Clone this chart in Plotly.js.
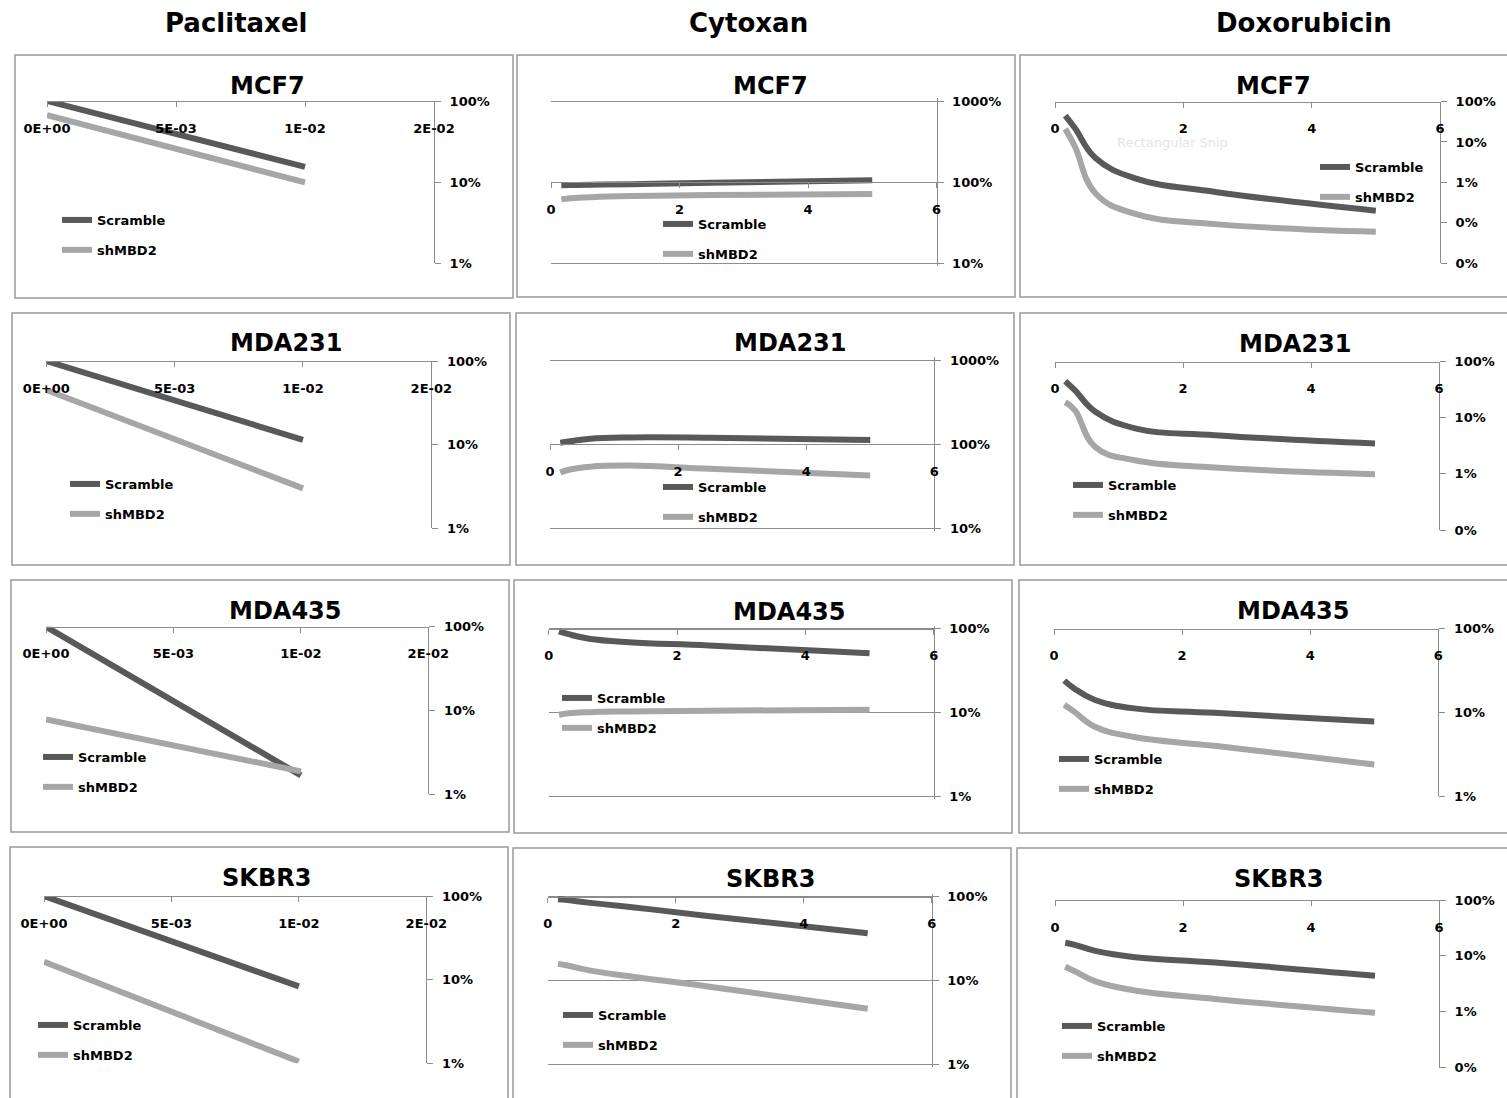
<!DOCTYPE html>
<html><head><meta charset="utf-8">
<script src="https://cdn.plot.ly/plotly-3.0.1.min.js"></script>
<style>html,body{margin:0;padding:0;background:#fff}#chart{width:1507px;height:1098px}</style>
</head><body><div id="chart"></div>
<script>
// ---------------- data ----------------
const drugs = ['Paclitaxel', 'Cytoxan', 'Doxorubicin'];
const cells = ['MCF7', 'MDA231', 'MDA435', 'SKBR3'];
const seriesNames = ['Scramble', 'shMBD2'];

const pacDose = [0, 0.01];
const cytDose = [0.16, 0.31, 0.63, 1.25, 2.5, 5];
const doxDose = [0.16, 0.31, 0.63, 1.25, 2.5, 5];

const pacMCF7Scr = [1.0, 0.154];
const pacMCF7Sh = [0.67, 0.099];
const pacMDA231Scr = [1.0, 0.114];
const pacMDA231Sh = [0.45, 0.030];
const pacMDA435Scr = [1.0, 0.0168];
const pacMDA435Sh = [0.078, 0.0188];
const pacSKBR3Scr = [1.0, 0.083];
const pacSKBR3Sh = [0.164, 0.0105];

const cytMCF7Scr = [0.91, 0.915, 0.925, 0.94, 0.98, 1.05];
const cytMCF7Sh = [0.61, 0.63, 0.65, 0.67, 0.69, 0.71];
const cytMDA231Scr = [1.04, 1.08, 1.16, 1.20, 1.19, 1.12];
const cytMDA231Sh = [0.46, 0.50, 0.54, 0.556, 0.51, 0.425];
const cytMDA435Scr = [0.93, 0.86, 0.76, 0.69, 0.63, 0.51];
const cytMDA435Sh = [0.094, 0.098, 0.101, 0.103, 0.105, 0.108];
const cytSKBR3Scr = [0.93, 0.91, 0.85, 0.76, 0.59, 0.366];
const cytSKBR3Sh = [0.158, 0.151, 0.133, 0.113, 0.085, 0.046];

const doxMCF7Scr = [0.45, 0.22, 0.040, 0.0126, 0.0058, 0.0020];
const doxMCF7Sh = [0.21, 0.077, 0.0054, 0.00166, 0.00093, 0.0006];
const doxMDA231Scr = [0.45, 0.31, 0.128, 0.065, 0.049, 0.035];
const doxMDA231Sh = [0.19, 0.137, 0.030, 0.0175, 0.013, 0.0099];
const doxMDA435Scr = [0.24, 0.195, 0.142, 0.112, 0.099, 0.078];
const doxMDA435Sh = [0.124, 0.103, 0.068, 0.051, 0.040, 0.024];
const doxSKBR3Scr = [0.172, 0.158, 0.123, 0.095, 0.076, 0.044];
const doxSKBR3Sh = [0.064, 0.053, 0.035, 0.024, 0.017, 0.0096];

const pacTickVals = [0, 0.005, 0.01, 0.015];
const pacTickText = ['0E+00', '5E-03', '1E-02', '2E-02'];
const doseTickVals = [0, 2, 4, 6];
const doseTickText = ['0', '2', '4', '6'];
const survTickVals = [10, 1, 0.1, 0.01, 0.001, 0.0001];
const survTickText = ['1000%', '100%', '10%', '1%', '0%', '0%'];

// ---------------- layout geometry (pixels) ----------------
const W = 1507, H = 1098;
const FONT = 'DejaVu Sans';
const colScr = '#595959', colSh = '#a6a6a6', axCol = '#8c8c8c';

const panels = [
  {d:0, c:0, x:pacDose, s:[pacMCF7Scr, pacMCF7Sh], yr:[-2,0], plot:[47,434,101,263], box:[15,513,55,298], title:[267,86], leg:[97,219]},
  {d:1, c:0, x:cytDose, s:[cytMCF7Scr, cytMCF7Sh], yr:[-1,1], plot:[551,936.5,101,263], box:[517,1015,55,297], title:[770,86], leg:[698,223]},
  {d:2, c:0, x:doxDose, s:[doxMCF7Scr, doxMCF7Sh], yr:[-4,0], plot:[1055,1440,101.5,263.3], box:[1020,1515,55,297], title:[1273,86], leg:[1355,166]},
  {d:0, c:1, x:pacDose, s:[pacMDA231Scr, pacMDA231Sh], yr:[-2,0], plot:[46.3,431.3,361,528.3], box:[12,510,313,565], title:[286,343], leg:[105,483]},
  {d:1, c:1, x:cytDose, s:[cytMDA231Scr, cytMDA231Sh], yr:[-1,1], plot:[550,934.3,360,528.3], box:[516,1014,313,565], title:[790,343], leg:[698,486]},
  {d:2, c:1, x:doxDose, s:[doxMDA231Scr, doxMDA231Sh], yr:[-3,0], plot:[1055,1439,361.7,530], box:[1020,1515,313,565], title:[1295,344], leg:[1108,484]},
  {d:0, c:2, x:pacDose, s:[pacMDA435Scr, pacMDA435Sh], yr:[-2,0], plot:[46,428.3,626.7,794.3], box:[11,509,580,832], title:[285,611], leg:[78,756]},
  {d:1, c:2, x:cytDose, s:[cytMDA435Scr, cytMDA435Sh], yr:[-2,0], plot:[548.7,933.7,628.7,796.3], box:[514,1012,580,833], title:[789,612], leg:[597,697]},
  {d:2, c:2, x:doxDose, s:[doxMDA435Scr, doxMDA435Sh], yr:[-2,0], plot:[1054,1438.3,628.7,796.3], box:[1019,1515,580,833], title:[1293,611], leg:[1094,758]},
  {d:0, c:3, x:pacDose, s:[pacSKBR3Scr, pacSKBR3Sh], yr:[-2,0], plot:[44,426.3,896,1063.3], box:[10,508,847,1105], title:[266,878], leg:[73,1024]},
  {d:1, c:3, x:cytDose, s:[cytSKBR3Scr, cytSKBR3Sh], yr:[-2,0], plot:[547.7,931.7,896.7,1064.3], box:[513,1011,848,1105], title:[770,879], leg:[598,1014]},
  {d:2, c:3, x:doxDose, s:[doxSKBR3Scr, doxSKBR3Sh], yr:[-3,0], plot:[1055,1439,900,1067.7], box:[1017,1515,848,1105], title:[1278,879], leg:[1097,1025]}
];

const traces = [];
const layout = {
  width: W, height: H,
  margin: {l:0, r:0, t:0, b:0},
  paper_bgcolor: '#ffffff', plot_bgcolor: 'rgba(0,0,0,0)',
  font: {family: FONT, color: '#000'},
  showlegend: true,
  shapes: [], annotations: []
};

const headerX = [236, 748, 1304];
drugs.forEach((name, i) => {
  layout.annotations.push({text: name, xref:'paper', yref:'paper', x: headerX[i]/W, y: 1 - 23/H,
    xanchor:'center', yanchor:'middle', showarrow:false,
    font:{family: FONT, size: 26, weight: 'bold', color:'#000'}});
});

panels.forEach((p, i) => {
  const n = i + 1;
  const sfx = n === 1 ? '' : String(n);
  const xid = 'x' + sfx, yid = 'y' + sfx, legId = 'legend' + sfx;
  const isPac = p.d === 0, isCyt = p.d === 1;
  const span = p.plot[3] - p.plot[2];
  // Cytoxan panels show grid lines at every decade, including both ends:
  // widen their range by a few pixels so the end grid lines are kept.
  const padPx = isCyt ? 3 : 0;
  const eps = padPx * (p.yr[1] - p.yr[0]) / span;
  const yr = [p.yr[0] - eps, p.yr[1] + eps];
  const xd = [p.plot[0]/W, p.plot[1]/W];
  const yd = [1 - (p.plot[3] + padPx)/H, 1 - (p.plot[2] - padPx)/H];
  const cross = yd[0] + (0 - yr[0]) / (yr[1] - yr[0]) * (yd[1] - yd[0]);
  layout['xaxis' + sfx] = {
    domain: xd, range: isPac ? [0, 0.015] : [0, 6], anchor: 'free', position: cross, side: 'bottom',
    showline: true, linecolor: axCol, linewidth: 1, ticks: 'outside', ticklen: 5, tickcolor: axCol,
    tickmode: 'array', tickvals: isPac ? pacTickVals : doseTickVals, ticktext: isPac ? pacTickText : doseTickText,
    tickfont: {family: FONT, size: 13, color: '#000', weight: 'bold'}, ticklabelstandoff: 10,
    showgrid: false, zeroline: false, fixedrange: true
  };
  layout['yaxis' + sfx] = {
    domain: yd, type: 'log', range: yr, anchor: xid, side: 'right',
    showline: true, linecolor: axCol, linewidth: 1, ticks: 'outside', ticklen: 6, tickcolor: axCol,
    tickmode: 'array', tickvals: survTickVals, ticktext: survTickText,
    tickfont: {family: FONT, size: 13, color: '#000', weight: 'bold'}, ticklabelstandoff: 6,
    showgrid: isCyt, gridcolor: axCol, gridwidth: 1, zeroline: false, fixedrange: true
  };
  [colScr, colSh].forEach((col, k) => {
    traces.push({
      type: 'scatter', mode: 'lines', name: seriesNames[k], x: p.x, y: p.s[k],
      xaxis: xid, yaxis: yid, legend: legId, legendgroup: 'g' + n + '_' + k,
      line: {color: col, width: 6, shape: isPac ? 'linear' : 'spline', smoothing: 1.2},
      hoverinfo: 'skip'
    });
  });
  layout[legId] = {
    x: (p.leg[0] - 40)/W, y: 1 - (p.leg[1] - 14)/H, xanchor: 'left', yanchor: 'top',
    bgcolor: 'rgba(0,0,0,0)', borderwidth: 0, traceorder: 'grouped', tracegroupgap: 10,
    font: {family: FONT, size: 13, color: '#000', weight: 'bold'}
  };
  layout.annotations.push({text: cells[p.c], xref:'paper', yref:'paper', x: p.title[0]/W, y: 1 - p.title[1]/H,
    xanchor:'center', yanchor:'middle', showarrow:false,
    font:{family: FONT, size: 24, weight: 'bold', color:'#000'}});
  layout.shapes.push({type:'rect', xref:'paper', yref:'paper', x0: p.box[0]/W, x1: p.box[1]/W,
    y0: 1 - p.box[3]/H, y1: 1 - p.box[2]/H, line:{color:'#9a9a9a', width:1.5}, fillcolor:'rgba(0,0,0,0)', layer:'below'});
});

// faint screen-capture artefact visible in the source image
layout.annotations.push({text: 'Rectangular Snip', xref:'paper', yref:'paper', x: 1172/W, y: 1 - 142/H,
  xanchor:'center', yanchor:'middle', showarrow:false,
  font:{family: FONT, size: 13, color:'#e4e4e4'}});

Plotly.newPlot('chart', traces, layout, {staticPlot: true, displayModeBar: false});
</script>
</body></html>
